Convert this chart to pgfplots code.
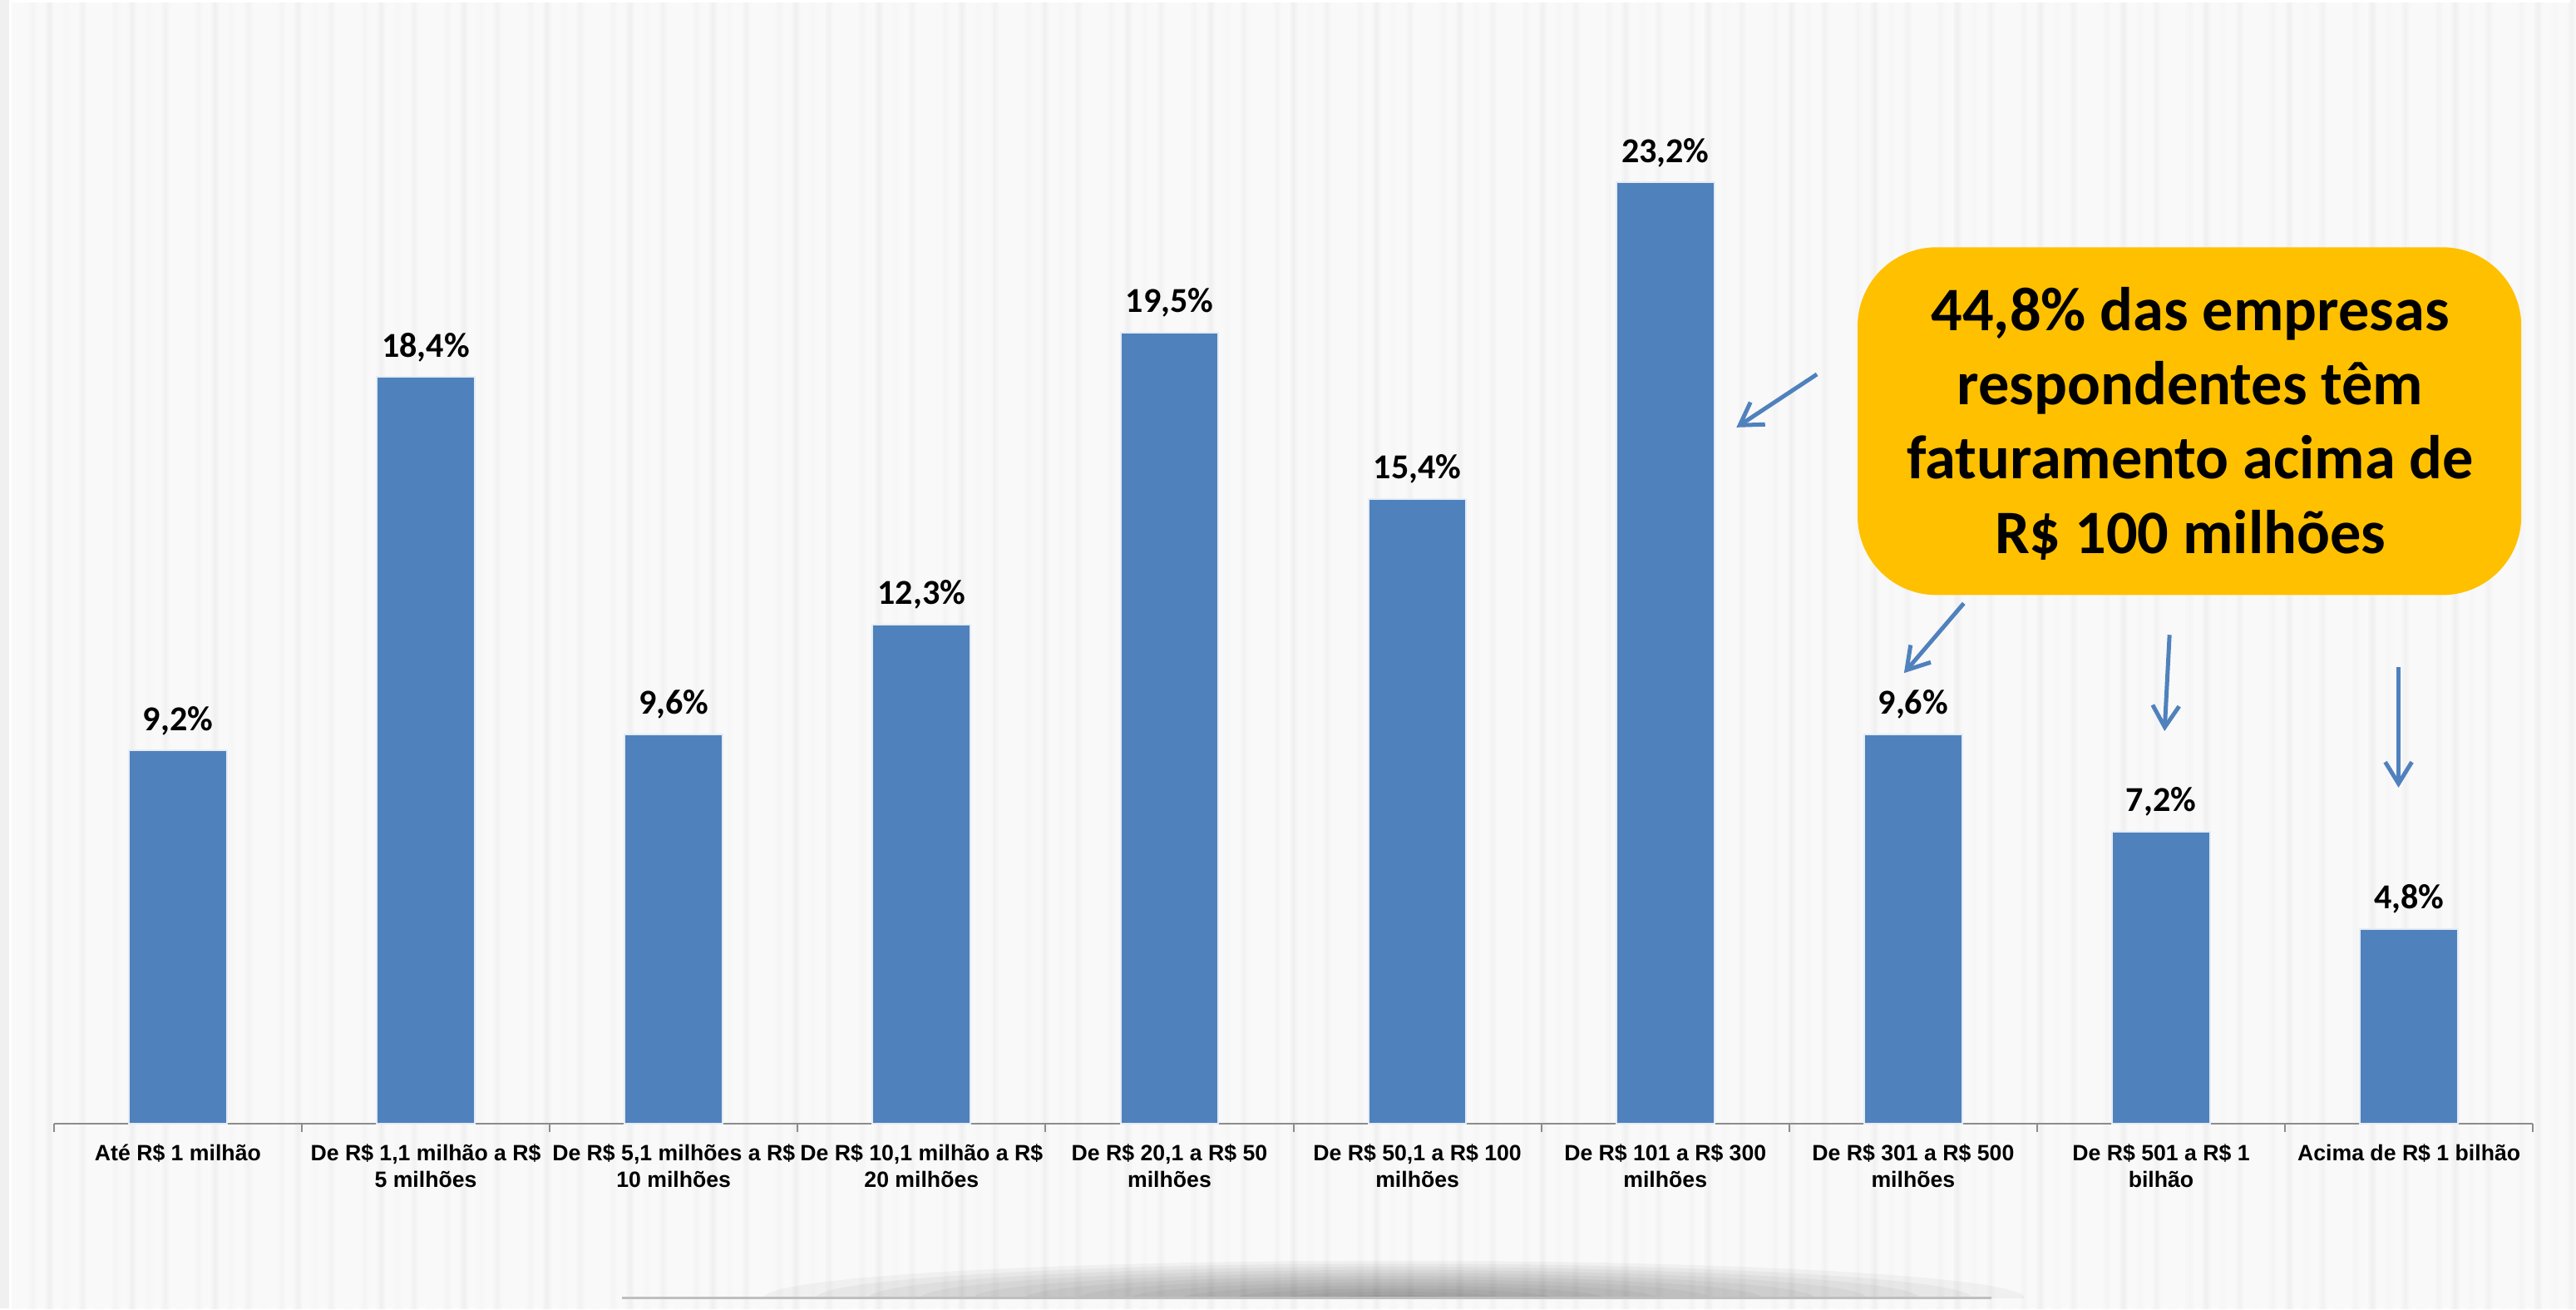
\documentclass[border=0pt]{standalone}
\usepackage{fontspec}
\setmainfont{Carlito}
\newfontfamily\labfont{Liberation Sans}
\usepackage{pgfplots}
\pgfplotsset{compat=1.18}
\usetikzlibrary{arrows.meta}
\definecolor{barblue}{HTML}{4F81BD}
\definecolor{callout}{HTML}{FFC000}
\definecolor{bg}{HTML}{F9F9F9}
\definecolor{axisgray}{HTML}{8C8C8C}
\newcommand\lstrut{\rule{0pt}{0.95em}}
\newcommand\tlabfont{\labfont\bfseries\fontsize{7.6pt}{9pt}\selectfont}
\newcommand\datafont{\bfseries\fontsize{12pt}{14pt}\selectfont}
\newcommand\calfont{\bfseries\fontsize{21.2pt}{25.5pt}\selectfont}
\pgfkeys{/pgf/number format/assume math mode=true}

\begin{document}
\begin{tikzpicture}[x=1cm,y=1cm]
% background
\fill[bg] (0,0) rectangle (30.98,15.77);
\foreach \i in {0,...,154}{
  \pgfmathsetmacro\g{2.5+mod(\i*7,5)*0.9}
  \pgfmathsetmacro\xx{0.13+\i*0.2}
  \shade[left color=bg, right color=bg, middle color=black!\g] (\xx,0) rectangle ++(0.12,15.77);
}
\fill[black!6] (0,0) rectangle (0.12,15.77);
\draw[white, line width=0.03cm] (0.13,0) -- (0.13,15.75) -- (30.98,15.75);
% bottom shadow
\begin{scope}
\clip (0,0.13) rectangle (30.98,1.2);
\foreach \k in {1,...,12}{
  \fill[black, opacity=0.035] (16.8,0.13) ellipse ({7.6*\k/12} and {0.45*\k/12});
}
\end{scope}
\draw[black!25, line width=0.03cm] (7.5,0.13) -- (24.0,0.13);

\begin{axis}[
  at={(0.65cm,2.23cm)}, anchor=south west,
  scale only axis, width=29.88cm, height=13.54cm,
  xmin=-0.5, xmax=9.5, ymin=0, ymax=27.69,
  axis y line=none, axis x line*=bottom,
  x axis line style={draw=axisgray, line width=0.02cm},
  xtick={0,...,9},
  xticklabels={
    {\lstrut Até R\$ 1 milhão},
    {\lstrut De R\$ 1,1 milhão a R\$\\5 milhões},
    {\lstrut De R\$ 5,1 milhões a R\$\\10 milhões},
    {\lstrut De R\$ 10,1 milhão a R\$\\20 milhões},
    {\lstrut De R\$ 20,1 a R\$ 50\\milhões},
    {\lstrut De R\$ 50,1 a R\$ 100\\milhões},
    {\lstrut De R\$ 101 a R\$ 300\\milhões},
    {\lstrut De R\$ 301 a R\$ 500\\milhões},
    {\lstrut De R\$ 501 a R\$ 1\\bilhão},
    {\lstrut Acima de R\$ 1 bilhão}},
  major tick length=0pt,
  minor xtick={-0.5,0.5,...,9.5},
  minor tick length=0.1cm,
  tick align=outside,
  minor tick style={draw=axisgray, line width=0.02cm},
  xticklabel style={font=\tlabfont, align=center, yshift=-0.07cm},
  ybar, bar width=1.18cm,
  clip=false,
  nodes near coords={\pgfmathprintnumber[fixed, fixed zerofill, precision=1, use comma]{\pgfplotspointmeta}\%},
  every node near coord/.append style={font=\datafont, text=black, anchor=base, yshift=0.24cm},
]
\addplot[fill=barblue, draw=white!85!barblue, line width=0.02cm] coordinates {
  (0,9.2) (1,18.4) (2,9.6) (3,12.3) (4,19.5)
  (5,15.4) (6,23.2) (7,9.6) (8,7.2) (9,4.8)};
\end{axis}

% callout
\fill[callout, rounded corners=0.95cm] (22.39,8.60) rectangle (30.39,12.79);
\node[anchor=base, font=\calfont, inner sep=0pt] at (26.40,11.79) {44,8\% das empresas};
\node[anchor=base, font=\calfont, inner sep=0pt] at (26.40,10.89) {respondentes têm};
\node[anchor=base, font=\calfont, inner sep=0pt] at (26.40,10.00) {faturamento acima de};
\node[anchor=base, font=\calfont, inner sep=0pt] at (26.40,9.10) {R\$ 100 milhões};
% arrows
\begin{scope}[barblue, line width=0.05cm, -{Straight Barb[length=0.26cm, width=0.32cm]}]
\draw (21.90,11.26) -- (20.93,10.62);
\draw (23.67,8.50) -- (22.95,7.66);
\draw (26.15,8.12) -- (26.09,6.96);
\draw (28.91,7.73) -- (28.91,6.28);
\end{scope}
\end{tikzpicture}
\end{document}
